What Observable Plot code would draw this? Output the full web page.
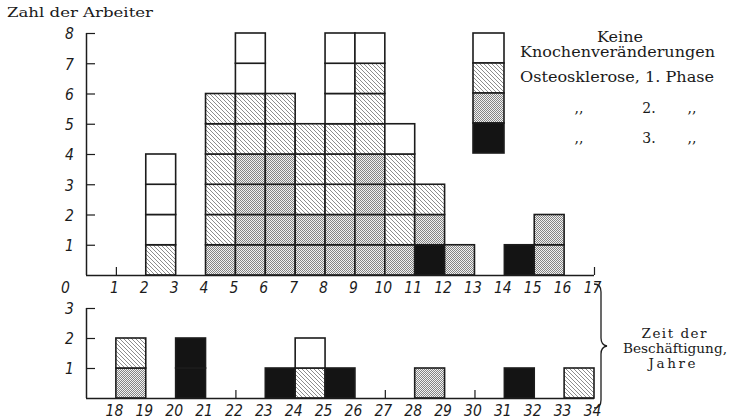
<!DOCTYPE html>
<html>
<head>
<meta charset="utf-8">
<script src="https://cdn.jsdelivr.net/npm/d3@7"></script>
<script src="https://cdn.jsdelivr.net/npm/@observablehq/plot@0.6"></script>
<style>
  body { margin: 0; background: #fff; }
  #chart { position: relative; width: 735px; height: 419px; overflow: hidden; background: #fff; }
  #chart > svg { position: absolute; left: 0; }
  .serif { font-family: "DejaVu Serif", serif; fill: #1a1a1a; }
</style>
</head>
<body>
<div id="chart">
  <svg width="0" height="0" style="position:absolute">
    <defs>
      <pattern id="hatch" patternUnits="userSpaceOnUse" width="4" height="4">
        <rect width="4" height="4" fill="#fff"/>
        <path d="M-1,-1 L5,5 M3,-1 L5,1 M-1,3 L1,5" stroke="#808080" stroke-width="0.9"/>
      </pattern>
      <pattern id="cross" patternUnits="userSpaceOnUse" width="2" height="2">
        <rect width="2" height="2" fill="#f2f2f2"/>
        <rect x="0" y="0" width="1" height="1" fill="#858585"/>
        <rect x="1" y="1" width="1" height="1" fill="#858585"/>
      </pattern>
    </defs>
  </svg>
</div>
<script>
// Workers per year of employment (each bar spans [year, year + 1]),
// split by radiological finding.
const topYears  = [2, 4, 5, 6, 7, 8, 9, 10, 11, 12, 14, 15];
const topPhase3 = [0, 0, 0, 0, 0, 0, 0, 0, 1, 0, 1, 0];
const topPhase2 = [0, 1, 4, 4, 2, 2, 4, 1, 1, 1, 0, 2];
const topPhase1 = [1, 5, 2, 2, 3, 3, 3, 3, 1, 0, 0, 0];
const topKeine  = [3, 0, 2, 0, 0, 3, 1, 1, 0, 0, 0, 0];

const bottomYears  = [18, 20, 23, 24, 25, 28, 31, 33];
const bottomPhase3 = [0, 2, 1, 0, 1, 0, 1, 0];
const bottomPhase2 = [1, 0, 0, 0, 0, 1, 0, 0];
const bottomPhase1 = [1, 0, 0, 1, 0, 0, 0, 1];
const bottomKeine  = [0, 0, 0, 1, 0, 0, 0, 0];

// Axis labels and ticks
const topXLabels     = [1, 2, 3, 4, 5, 6, 7, 8, 9, 10, 11, 12, 13, 14, 15, 16, 17];
const bottomXLabels  = [18, 19, 20, 21, 22, 23, 24, 25, 26, 27, 28, 29, 30, 31, 32, 33, 34];
const topYTicks      = [1, 2, 3, 4, 5, 6, 7, 8];
const bottomYTicks   = [1, 2, 3];
const topGapTicks    = [1, 17];
const bottomGapTicks = [22, 27, 30];

// Stacking order, bottom to top
const categories = ["phase3", "phase2", "phase1", "keine"];
const fills = ["#141414", "url(#cross)", "url(#hatch)", "#ffffff"];

const ink = "#1c1c1c";
const tickFont = {fontFamily: "DejaVu Sans Condensed, DejaVu Sans", fontStyle: "italic", fontSize: 15.5, fill: ink};

function cells(years, series) {
  const out = [];
  years.forEach((year, i) => {
    let level = 0;
    categories.forEach((cat, c) => {
      for (let k = 0; k < series[c][i]; ++k) out.push({year, level: level++, cat});
    });
  });
  return out;
}

function panel({years, series, xDomain, yMax, xLabels, yTicks, gapTicks, height, marginTop, marginBottom, zeroLabel}) {
  const [x0, x1] = xDomain;
  const marks = [
    Plot.rect(cells(years, series), {
      x1: "year", x2: d => d.year + 1, y1: "level", y2: d => d.level + 1,
      fill: "cat", stroke: ink, strokeWidth: 1.6
    }),
    Plot.ruleY([0], {x1: x0, x2: x1, stroke: ink, strokeWidth: 1.5}),
    Plot.ruleX([x0], {y1: 0, y2: yMax, stroke: ink, strokeWidth: 1.5}),
    Plot.ruleY(yTicks, {y: d => d, x1: x0, x2: x0, insetRight: -9, stroke: ink, strokeWidth: 1.2}),
    Plot.ruleX(gapTicks, {x: d => d, y1: 0, y2: 0, insetTop: -8, stroke: ink, strokeWidth: 1.2}),
    Plot.text(xLabels, {x: d => d, y: 0, dy: 13, dx: -2, text: d => String(d), ...tickFont}),
    Plot.text(yTicks, {x: x0, y: d => d, dx: -17, dy: 1, text: d => String(d), ...tickFont})
  ];
  if (zeroLabel) marks.push(Plot.text([0], {x: x0, y: 0, dx: -21, dy: 13, text: d => String(d), ...tickFont}));
  return Plot.plot({
    width: 735, height,
    marginLeft: 86, marginRight: 141, marginTop, marginBottom,
    x: {domain: xDomain, axis: null},
    y: {domain: [0, yMax], axis: null},
    color: {type: "ordinal", domain: categories, range: fills},
    marks
  });
}

const chart = document.getElementById("chart");

const topPlot = panel({
  years: topYears, series: [topPhase3, topPhase2, topPhase1, topKeine],
  xDomain: [0, 17], yMax: 8, xLabels: topXLabels, yTicks: topYTicks, gapTicks: topGapTicks,
  height: 300, marginTop: 33, marginBottom: 25, zeroLabel: true
});
topPlot.style.top = "0px";
chart.appendChild(topPlot);

const bottomPlot = panel({
  years: bottomYears, series: [bottomPhase3, bottomPhase2, bottomPhase1, bottomKeine],
  xDomain: [17, 34], yMax: 3, xLabels: bottomXLabels, yTicks: bottomYTicks, gapTicks: bottomGapTicks,
  height: 124, marginTop: 13, marginBottom: 21
});
bottomPlot.style.top = "295px";
chart.appendChild(bottomPlot);

// Title, legend, brace and the right-hand caption
const overlay = d3.select(chart).append("svg")
  .attr("width", 735).attr("height", 419)
  .style("top", "0px").style("pointer-events", "none");

function label(x, y, text, size, length, anchor = "start", adjust = "spacingAndGlyphs") {
  const t = overlay.append("text").attr("class", "serif")
    .attr("x", x).attr("y", y).attr("font-size", size)
    .attr("text-anchor", anchor).text(text);
  if (length) t.attr("textLength", length).attr("lengthAdjust", adjust);
  return t;
}

label(7, 17, "Zahl der Arbeiter", 13, 146);

// legend swatches, top to bottom
const legendFills = [fills[3], fills[2], fills[1], fills[0]];
overlay.selectAll("rect.sw").data(legendFills).join("rect")
  .attr("x", 473).attr("y", (d, i) => 33 + i * 30).attr("width", 31).attr("height", 30)
  .attr("fill", d => d).attr("stroke", ink).attr("stroke-width", 1.6);

label(620, 42, "Keine", 14, 46, "middle");
label(520, 57, "Knochenveränderungen", 14, 195);
label(520, 82, "Osteosklerose, 1. Phase", 14, 194);
label(579, 113, ",,", 14, null, "middle");
label(649, 113, "2.", 14, null, "middle");
label(692, 113, ",,", 14, null, "middle");
label(579, 143, ",,", 14, null, "middle");
label(649, 143, "3.", 14, null, "middle");
label(692, 143, ",,", 14, null, "middle");

overlay.append("path")
  .attr("d", "M594,284 Q601,284 601,292 L601,338 Q601,345 607,346 Q601,347 601,354 L601,400 Q601,408 594,408")
  .attr("fill", "none").attr("stroke", ink).attr("stroke-width", 1.3);

label(674, 338, "Zeit der", 13.5, 65, "middle", "spacing");
label(675, 353, "Beschäftigung,", 13.5, 104, "middle");
label(672, 368, "Jahre", 13.5, 47, "middle", "spacing");
</script>
</body>
</html>
